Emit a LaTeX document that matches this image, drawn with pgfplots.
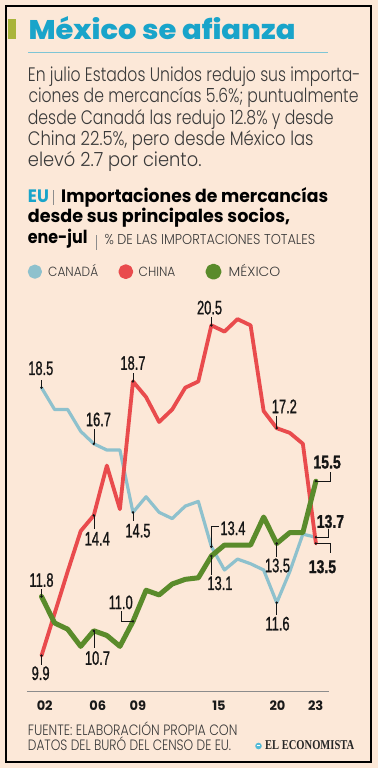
\documentclass[border=0pt]{standalone}
\usepackage{pgfplots}
\pgfplotsset{compat=1.18}
\usepackage{graphicx}
\usepackage{fontspec}
\IfFontExistsTF{Poppins Light}{\setmainfont{Poppins Light}}{\setmainfont{Poppins}}
\IfFontExistsTF{Poppins Bold}{\newfontfamily\heavy{Poppins Bold}}{\newfontfamily\heavy{Liberation Sans}[FakeBold=2]}
\IfFontExistsTF{Poppins ExtraBold}{\newfontfamily\xheavy{Poppins ExtraBold}}{\let\xheavy\heavy}
\newfontfamily\numfont{Liberation Sans}[FakeStretch=0.66, FakeBold=1]
\newfontfamily\numboldfam{Liberation Sans}[FakeStretch=0.76, FakeBold=1.2]
\newfontfamily\logofont{Liberation Serif}

\definecolor{bgc}{HTML}{FCE8D8}
\definecolor{cyant}{HTML}{19A4CA}
\definecolor{rulec}{HTML}{7EC5D5}
\definecolor{olivebar}{HTML}{A9B43A}
\definecolor{canada}{HTML}{8EC1CD}
\definecolor{china}{HTML}{E94B4D}
\definecolor{mexico}{HTML}{5A8B2B}
\definecolor{txt}{HTML}{3A3A3A}
\definecolor{axgray}{HTML}{8C8C8C}
\definecolor{labc}{HTML}{151515}

\newcommand{\fitw}[2]{\resizebox{#1}{\height}{#2}}

\tikzset{
  lab/.style={anchor=base, inner sep=0pt, text=labc, font=\numfont\fontsize{19.5}{20}\selectfont},
  labb/.style={anchor=base, inner sep=0pt, text=labc, font=\numboldfam\bfseries\fontsize{18.5}{19}\selectfont},
  lead/.style={labc, line width=0.5pt},
  tx/.style={anchor=base west, inner sep=0pt}
}

\begin{document}
\begin{tikzpicture}
\fill[bgc] (0pt,0pt) rectangle (378pt,768pt);
\draw[black, line width=2pt] (6pt,6pt) rectangle (370.5pt,762pt);
\fill[olivebar] (7.5pt,728.5pt) rectangle (16pt,748.5pt);
\node[tx, text=cyant] at (28.3pt,728.7pt) {\fitw{267pt}{\fontsize{27}{27}\selectfont\xheavy México se afianza}};
\draw[rulec, line width=0.8pt] (28pt,715.7pt) -- (328.3pt,715.7pt);

% paragraph
\node[tx, text=txt] at (27.7pt,686.3pt) {\fitw{332.5pt}{\fontsize{19.5}{20}\selectfont En julio Estados Unidos redujo sus importa-}};
\node[tx, text=txt] at (28.3pt,665.1pt) {\fitw{330pt}{\fontsize{19.5}{20}\selectfont ciones de mercancías 5.6\%; puntualmente}};
\node[tx, text=txt] at (27.7pt,643.8pt) {\fitw{305.6pt}{\fontsize{19.5}{20}\selectfont desde Canadá las redujo 12.8\% y desde}};
\node[tx, text=txt] at (27.7pt,622.6pt) {\fitw{285.6pt}{\fontsize{19.5}{20}\selectfont China 22.5\%, pero desde México las}};
\node[tx, text=txt] at (27.7pt,601.3pt) {\fitw{173.6pt}{\fontsize{19.5}{20}\selectfont elevó 2.7 por ciento.}};

% header
\node[tx, text=cyant] at (27.7pt,565.3pt) {\fitw{21pt}{\fontsize{18}{18}\selectfont\heavy EU}};
\draw[axgray, line width=0.7pt] (53.3pt,563pt) -- (53.3pt,578pt);
\node[tx, text=black] at (61pt,565.3pt) {\fitw{267pt}{\fontsize{18}{18}\selectfont\heavy Importaciones de mercancías}};
\node[tx, text=black] at (27.7pt,545.3pt) {\fitw{262.3pt}{\fontsize{18}{18}\selectfont\heavy desde sus principales socios,}};
\node[tx, text=black] at (27.7pt,524.7pt) {\fitw{59.6pt}{\fontsize{18}{18}\selectfont\heavy ene-jul}};
\draw[axgray, line width=0.7pt] (96.7pt,518pt) -- (96.7pt,533pt);
\node[tx, text=txt] at (104.3pt,523.5pt) {\fitw{210.7pt}{\fontsize{14.3}{15}\selectfont \% DE LAS IMPORTACIONES TOTALES}};

% footer
\node[tx, text=txt] at (27.7pt,32.3pt) {\fitw{209.6pt}{\fontsize{15}{15}\selectfont FUENTE: ELABORACIÓN PROPIA CON}};
\node[tx, text=txt] at (27.7pt,17.3pt) {\fitw{203.3pt}{\fontsize{15}{15}\selectfont DATOS DEL BURÓ DEL CENSO DE EU.}};
\fill[cyant!75] (258.5pt,22pt) circle (3.3pt);
\draw[white, line width=0.6pt] (256.6pt,22.2pt) -- (260.4pt,22.2pt);
\node[tx, text=black!85] at (265pt,18pt) {\fitw{89pt}{\fontsize{13.5}{13.5}\selectfont\logofont\bfseries EL ECONOMISTA}};

\begin{axis}[
  at={(27pt,77pt)}, anchor=south west,
  scale only axis, width=302pt, height=391pt,
  xmin=2000.89, xmax=2024.0, ymin=8.767, ymax=21.314,
  axis x line*=bottom, axis y line=none,
  x axis line style={-, draw=axgray, line width=0.9pt},
  xtick={2002.245,2006.30,2009.38,2015.58,2020.06,2022.98},
  xticklabels={\mbox{02},\mbox{06},\mbox{09},\mbox{15},\mbox{20},\mbox{23}},
  major tick length=0pt, xtick style={draw=none},
  xticklabel style={anchor=base, yshift=-19.7pt, inner sep=0pt, text=black!90, font=\fontsize{13}{13}\selectfont\heavy},
  ytick=\empty,
  clip=false,
  legend columns=3,
  legend cell align=left,
  legend style={draw=none, fill=none, at={(axis description cs:0.00265,1.0724)}, anchor=west,
    inner sep=0pt, outer sep=0pt,
    nodes={inner sep=0pt, outer sep=0pt, text depth=0pt, anchor=west},
    text=txt, font=\fontsize{13.3}{14}\selectfont},
  legend image code/.code={\fill[#1] (5.5pt,4.65pt) circle (5.5pt);},
]
\addplot[canada, line width=3.2pt, line join=round, line cap=round] coordinates {
(2002,18.5) (2003,17.8) (2004,17.8) (2005,17.1) (2006,16.7) (2007,16.5) (2008,16.5)
(2009,14.5) (2010,15.0) (2011,14.5) (2012,14.3) (2013,14.7) (2014,14.85) (2015,13.4)
(2016,12.65) (2017,13.0) (2018,12.85) (2019,12.65) (2020,11.6) (2021,12.6) (2022,13.8) (2023,13.7)};
\addlegendentry{\smash{\makebox[76.4pt][l]{\hspace*{6.2pt}\fitw{50pt}{CANADÁ}}}}
\addplot[china, line width=3.8pt, line join=round, line cap=round] coordinates {
(2002,9.9) (2003,11.25) (2004,12.6) (2005,13.9) (2006,14.4) (2007,16.0) (2008,14.6)
(2009,18.7) (2010,18.2) (2011,17.4) (2012,17.8) (2013,18.5) (2014,18.7) (2015,20.5)
(2016,20.3) (2017,20.7) (2018,20.5) (2019,17.75) (2020,17.2) (2021,17.05) (2022,16.7) (2023,13.5)};
\addlegendentry{\smash{\makebox[72.3pt][l]{\hspace*{5.5pt}\fitw{36.7pt}{CHINA}}}}
\addplot[mexico, line width=5pt, line join=round, line cap=round] coordinates {
(2002,11.8) (2003,10.95) (2004,10.75) (2005,10.2) (2006,10.7) (2007,10.55) (2008,10.2)
(2009,11.0) (2010,12.0) (2011,11.85) (2012,12.2) (2013,12.35) (2014,12.4) (2015,13.1)
(2016,13.45) (2017,13.45) (2018,13.45) (2019,14.35) (2020,13.5) (2021,13.85) (2022,13.85) (2023,15.5)};
\addlegendentry{\smash{\makebox[60pt][l]{\hspace*{7.2pt}\fitw{51.7pt}{MÉXICO}}}}
\addplot[only marks, mark=*, mark size=1pt, labc, forget plot] coordinates {
(2002,18.5) (2006,16.7) (2009,14.5) (2015,13.4) (2020,11.6) (2023,13.7)
(2002,9.9) (2006,14.4) (2009,18.7) (2015,20.5) (2020,17.2) (2023,13.5)
(2002,11.8) (2006,10.7) (2009,11.0) (2015,13.1) (2020,13.5) (2023,15.5)};

% Canada labels
\draw[lead] (axis cs:2002,18.5) -- ++(0pt,8pt);
\path (axis cs:2002,18.5) ++(-0.7pt,12.7pt) node[lab]{18.5};
\draw[lead] (axis cs:2006,16.7) -- ++(0pt,15pt);
\path (axis cs:2006,16.7) ++(4.7pt,17.6pt) node[lab]{16.7};
\draw[lead] (axis cs:2009,14.5) -- ++(0pt,-9pt);
\path (axis cs:2009,14.5) ++(5pt,-25pt) node[lab]{14.5};
\draw[lead] (axis cs:2015,13.4) -- ++(0pt,20pt) -- ++(8pt,0pt);
\path (axis cs:2015,13.4) ++(21.6pt,11.6pt) node[lab]{13.4};
\draw[lead] (axis cs:2020,11.6) -- ++(0pt,-12pt);
\path (axis cs:2020,11.6) ++(0.8pt,-27.7pt) node[lab]{11.6};
\draw[lead] (axis cs:2023,13.7) -- ++(12.6pt,0pt) -- ++(0pt,8.7pt);
\path (axis cs:2023,13.7) ++(14.5pt,9.4pt) node[labb]{13.7};
% China labels
\draw[lead] (axis cs:2002,9.9) -- ++(0pt,-9pt);
\path (axis cs:2002,9.9) ++(-0.9pt,-24.3pt) node[lab]{9.9};
\draw[lead] (axis cs:2006,14.4) -- ++(0pt,-14pt);
\path (axis cs:2006,14.4) ++(3.5pt,-30pt) node[lab]{14.4};
\draw[lead] (axis cs:2009,18.7) -- ++(0pt,8pt);
\path (axis cs:2009,18.7) ++(0pt,11.7pt) node[lab]{18.7};
\draw[lead] (axis cs:2015,20.5) -- ++(0pt,8pt);
\path (axis cs:2015,20.5) ++(-1.8pt,11pt) node[lab]{20.5};
\draw[lead] (axis cs:2020,17.2) -- ++(0pt,12pt);
\path (axis cs:2020,17.2) ++(7.6pt,15pt) node[lab]{17.2};
\draw[lead] (axis cs:2023,13.5) -- ++(14pt,0pt) -- ++(0pt,-9.3pt);
\path (axis cs:2023,13.5) ++(6.5pt,-29.6pt) node[labb]{13.5};
% Mexico labels
\draw[lead] (axis cs:2002,11.8) -- ++(0pt,7pt);
\path (axis cs:2002,11.8) ++(0pt,9.7pt) node[lab]{11.8};
\draw[lead] (axis cs:2006,10.7) -- ++(0pt,-17pt);
\path (axis cs:2006,10.7) ++(3.7pt,-34pt) node[lab]{10.7};
\draw[lead] (axis cs:2009,11.0) -- ++(-12pt,0pt) -- ++(0pt,10.7pt);
\path (axis cs:2009,11.0) ++(-12.3pt,12.3pt) node[lab]{11.0};
\draw[lead] (axis cs:2015,13.1) -- ++(0pt,-19pt);
\path (axis cs:2015,13.1) ++(8.6pt,-34pt) node[lab]{13.1};
\draw[lead] (axis cs:2020,13.5) -- ++(0pt,-13pt);
\path (axis cs:2020,13.5) ++(0.8pt,-28.7pt) node[lab]{13.5};
\draw[lead] (axis cs:2023,15.5) -- ++(14pt,0pt) -- ++(0pt,9pt);
\path (axis cs:2023,15.5) ++(11.2pt,12.7pt) node[labb]{15.5};
\end{axis}
\pgfresetboundingbox
\useasboundingbox (0pt,0pt) rectangle (378pt,768pt);
\end{tikzpicture}
\end{document}
